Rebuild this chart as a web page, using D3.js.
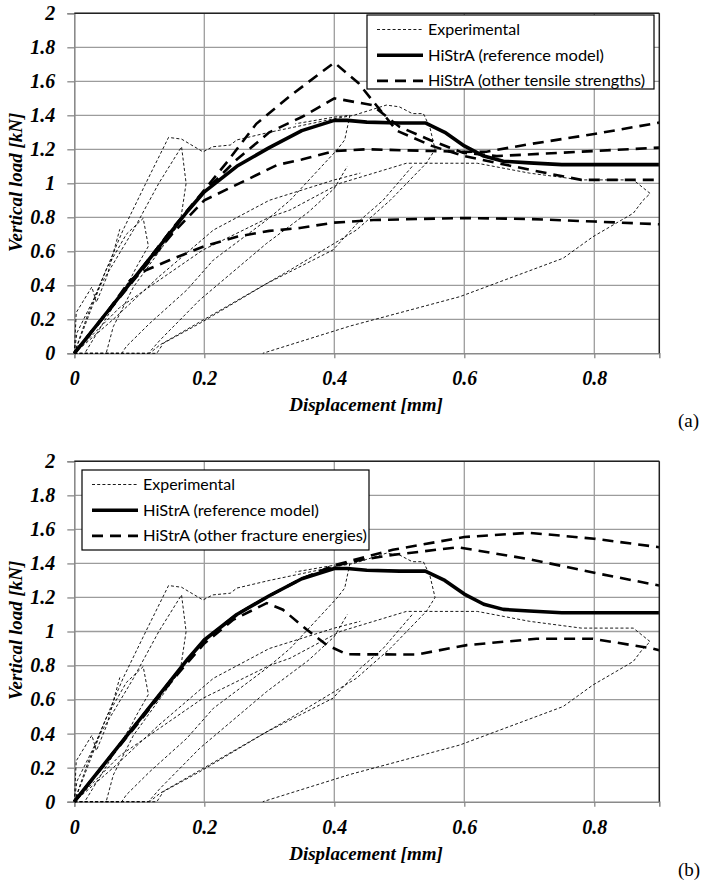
<!DOCTYPE html>
<html>
<head>
<meta charset="utf-8">
<script src="https://cdn.jsdelivr.net/npm/d3@7"></script>
<style>
body { margin: 0; background: #fff; }
.tick text { font-family: "Liberation Serif", "Times New Roman", serif; font-weight: bold; font-style: italic; font-size: 20px; fill: #000; }
</style>
</head>
<body>
<svg id="chart" width="711" height="887"></svg>
<script>
// ---- experimental tests (thin dashed), same in both panels: [displacement, load]
var test1 = [[0,0],[0.004,0.12],[0.03,0.32],[0.075,0.725],[0.11,1.0],[0.145,1.27],[0.165,1.26],[0.198,1.185],[0.213,1.215],[0.24,1.225],[0.25,1.255],[0.3,1.3],[0.4,1.38],[0.43,1.4],[0.48,1.46],[0.5,1.45],[0.52,1.41],[0.537,1.41],[0.547,1.33],[0.555,1.2],[0.542,1.12],[0.486,0.9],[0.434,0.725],[0.332,0.49],[0.132,0.05],[0.116,0]]
var test2 = [[0,0],[0.01,0.1],[0.04,0.4],[0.091,0.725],[0.13,1.0],[0.165,1.215],[0.172,1.0],[0.163,0.77],[0.091,0.39],[0.06,0.157],[0.049,0]]
var test3 = [[0,0],[0.02,0.22],[0.05,0.5],[0.08,0.7],[0.106,0.794],[0.114,0.63],[0.096,0.51],[0.088,0.45],[0.016,0]]
var test4 = [[0,0],[0.003,0.24],[0.027,0.39],[0.034,0.3],[0.05,0.45],[0.07,0.73]]
var test5 = [[0,0],[0.07,0.27],[0.198,0.608],[0.3,0.8],[0.332,0.843],[0.409,1.0],[0.511,1.118],[0.62,1.118],[0.7,1.06],[0.78,1.02],[0.86,1.02],[0.886,0.94],[0.875,0.9],[0.86,0.824],[0.798,0.686],[0.752,0.559],[0.593,0.333],[0.424,0.16],[0.29,0]]
var test6 = [[0,0],[0.073,0],[0.08,0.04],[0.116,0.176],[0.173,0.372],[0.214,0.549],[0.296,0.784],[0.332,0.9],[0.404,1.196],[0.416,1.255],[0.424,1.4],[0.401,1.39],[0.34,1.35]]
var test7 = [[0,0],[0.127,0],[0.137,0.059],[0.193,0.176],[0.296,0.41],[0.398,0.608],[0.44,0.784],[0.475,0.9],[0.52,1.1]]
var test8 = [[0,0],[0.114,0],[0.132,0.078],[0.193,0.314],[0.296,0.647],[0.36,0.83],[0.4,0.97],[0.42,1.1]]
var test9 = [[0,0],[0.06,0.2],[0.13,0.45],[0.214,0.725],[0.3,0.9],[0.4,1.02],[0.44,1.06]]
var tests = [test1, test2, test3, test4, test5, test6, test7, test8, test9]

// ---- HiStrA reference model (thick solid), both panels
var refX = [0, 0.05, 0.1, 0.15, 0.175, 0.2, 0.25, 0.3, 0.35, 0.4, 0.42, 0.45, 0.5, 0.54, 0.57, 0.6, 0.63, 0.66, 0.7, 0.75, 0.8, 0.9]
var refY = [0, 0.24, 0.48, 0.72, 0.84, 0.95, 1.1, 1.21, 1.31, 1.37, 1.37, 1.36, 1.355, 1.355, 1.3, 1.22, 1.16, 1.13, 1.12, 1.11, 1.11, 1.11]

// ---- (a) other tensile strengths
var ts1X = [0, 0.1, 0.15, 0.2, 0.234, 0.28, 0.334, 0.4, 0.437, 0.496, 0.55, 0.6, 0.65, 0.7, 0.78, 0.9]
var ts1Y = [0, 0.48, 0.73, 0.96, 1.12, 1.35, 1.52, 1.71, 1.59, 1.31, 1.22, 1.16, 1.12, 1.08, 1.02, 1.02]
var ts2X = [0, 0.1, 0.15, 0.2, 0.25, 0.3, 0.35, 0.4, 0.458, 0.5, 0.547, 0.598, 0.65, 0.75, 0.9]
var ts2Y = [0, 0.48, 0.73, 0.95, 1.14, 1.3, 1.39, 1.5, 1.46, 1.333, 1.255, 1.18, 1.16, 1.18, 1.21]
var ts3X = [0, 0.1, 0.15, 0.2, 0.265, 0.312, 0.35, 0.4, 0.45, 0.55, 0.6, 0.634, 0.7, 0.8, 0.9]
var ts3Y = [0, 0.47, 0.7, 0.9, 1.02, 1.108, 1.14, 1.19, 1.2, 1.19, 1.185, 1.186, 1.23, 1.29, 1.357]
var ts4X = [0, 0.05, 0.086, 0.111, 0.147, 0.198, 0.25, 0.3, 0.347, 0.398, 0.46, 0.6, 0.7, 0.8, 0.9]
var ts4Y = [0, 0.24, 0.43, 0.49, 0.549, 0.627, 0.686, 0.72, 0.737, 0.768, 0.784, 0.796, 0.79, 0.775, 0.759]

// ---- (b) other fracture energies
var fe1X = [0, 0.1, 0.15, 0.2, 0.25, 0.3, 0.35, 0.4, 0.44, 0.49, 0.6, 0.7, 0.8, 0.9]
var fe1Y = [0, 0.48, 0.72, 0.95, 1.1, 1.21, 1.31, 1.39, 1.43, 1.48, 1.555, 1.58, 1.545, 1.495]
var fe2X = [0, 0.1, 0.15, 0.2, 0.25, 0.3, 0.35, 0.4, 0.44, 0.49, 0.59, 0.7, 0.8, 0.9]
var fe2Y = [0, 0.48, 0.72, 0.95, 1.1, 1.21, 1.31, 1.385, 1.42, 1.45, 1.495, 1.425, 1.345, 1.27]
var fe3X = [0, 0.1, 0.15, 0.2, 0.245, 0.296, 0.321, 0.358, 0.388, 0.419, 0.527, 0.604, 0.711, 0.798, 0.89, 0.9]
var fe3Y = [0, 0.47, 0.71, 0.93, 1.07, 1.167, 1.128, 1.01, 0.922, 0.866, 0.865, 0.92, 0.957, 0.957, 0.9, 0.89]

var xTicks = [0, 0.2, 0.4, 0.6, 0.8]
var yTicks = [0, 0.2, 0.4, 0.6, 0.8, 1, 1.2, 1.4, 1.6, 1.8, 2]
var legendA = ["Experimental", "HiStrA (reference model)", "HiStrA (other tensile strengths)"]
var legendB = ["Experimental", "HiStrA (reference model)", "HiStrA (other fracture energies)"]

var svg = d3.select("#chart")
svg.append("rect").attr("width", 711).attr("height", 887).attr("fill", "#fff")

var x = d3.scaleLinear().domain([0, 0.9]).range([74.3, 659.3])

function drawPanel(top, bottom, others, legend, box, tag, id) {
	var y = d3.scaleLinear().domain([0, 2]).range([bottom, top])
	var g = svg.append("g")
	var line = d3.line().x(function(d){ return x(d[0]) }).y(function(d){ return y(d[1]) })

	// grid
	g.selectAll(".hg").data(yTicks.slice(1)).enter().append("line")
		.attr("x1", x(0)).attr("x2", x(0.9))
		.attr("y1", function(d){ return y(d) }).attr("y2", function(d){ return y(d) })
		.attr("stroke", "#9c9c9c").attr("stroke-width", 1.3)
	g.selectAll(".vg").data(xTicks.slice(1)).enter().append("line")
		.attr("y1", y(0)).attr("y2", y(2))
		.attr("x1", function(d){ return x(d) }).attr("x2", function(d){ return x(d) })
		.attr("stroke", "#9c9c9c").attr("stroke-width", 1.3)

	// axes with outside ticks
	var ya = g.append("g").attr("transform", "translate(" + x(0) + ",0)")
		.call(d3.axisLeft(y).tickValues(yTicks).tickSize(7).tickPadding(12).tickFormat(function(d){ return String(d) }))
	var xa = g.append("g").attr("transform", "translate(0," + y(0) + ")")
		.call(d3.axisBottom(x).tickValues(xTicks).tickSize(5).tickPadding(13).tickFormat(function(d){ return String(d) }))
	ya.select(".domain").attr("stroke", "#8a8a8a").attr("stroke-width", 1.6)
	xa.select(".domain").attr("stroke", "#8a8a8a").attr("stroke-width", 1.6)
	ya.selectAll(".tick line").attr("stroke", "#8a8a8a").attr("stroke-width", 1.3)
	xa.selectAll(".tick line").attr("stroke", "#8a8a8a").attr("stroke-width", 1.3)

	// clip
	svg.append("clipPath").attr("id", "clip" + id).append("rect")
		.attr("x", x(0) - 2).attr("y", y(2)).attr("width", x(0.9) - x(0) + 3).attr("height", y(0) - y(2) + 2)
	var plot = g.append("g").attr("clip-path", "url(#clip" + id + ")")

	plot.selectAll(".exp").data(tests).enter().append("path")
		.attr("d", line).attr("fill", "none").attr("stroke", "#000")
		.attr("stroke-width", 0.9).attr("stroke-dasharray", "3,2.2")
	plot.selectAll(".oth").data(others).enter().append("path")
		.attr("d", line).attr("fill", "none").attr("stroke", "#000")
		.attr("stroke-width", 2.6).attr("stroke-dasharray", "11,7")
	plot.append("path").attr("d", line(d3.zip(refX, refY))).attr("fill", "none")
		.attr("stroke", "#000").attr("stroke-width", 3.6).attr("stroke-linejoin", "round")

	// frame top and right
	g.append("line").attr("x1", x(0)).attr("x2", x(0.9)).attr("y1", y(2)).attr("y2", y(2))
		.attr("stroke", "#222").attr("stroke-width", 1.5)
	g.append("line").attr("x1", x(0.9)).attr("x2", x(0.9)).attr("y1", y(2)).attr("y2", y(0))
		.attr("stroke", "#222").attr("stroke-width", 1.5)

	// axis titles
	g.append("text").attr("x", 366).attr("y", y(0) + 58).attr("text-anchor", "middle")
		.style("font-family", "Liberation Serif, serif").style("font-weight", "bold").style("font-style", "italic").style("font-size", "19px")
		.text("Displacement [mm]")
	g.append("text").attr("transform", "translate(22," + (top + 169) + ") rotate(-90)").attr("text-anchor", "middle")
		.style("font-family", "Liberation Serif, serif").style("font-weight", "bold").style("font-style", "italic").style("font-size", "19px")
		.text("Vertical load [kN]")
	g.append("text").attr("x", 678).attr("y", y(0) + 74)
		.style("font-family", "Liberation Serif, serif").style("font-size", "19px")
		.text(tag)

	// legend
	var lg = g.append("g").attr("transform", "translate(" + box[0] + "," + box[1] + ")")
	lg.append("rect").attr("width", 287).attr("height", box[2]).attr("fill", "#fff")
		.attr("stroke", "#000").attr("stroke-width", 1.2)
	var widths = [92, 176, box[3]]
	var styles = [[0.9, "3,2.2"], [3.6, null], [2.6, "11,7"]]
	legend.forEach(function(t, i) {
		var cy = 14.5 + i * 25.7
		lg.append("line").attr("x1", 10).attr("x2", 56).attr("y1", cy).attr("y2", cy)
			.attr("stroke", "#000").attr("stroke-width", styles[i][0])
			.attr("stroke-dasharray", styles[i][1])
		lg.append("text").attr("x", 61).attr("y", cy + 5.5)
			.attr("textLength", widths[i]).attr("lengthAdjust", "spacingAndGlyphs")
			.style("font-family", "Lato, sans-serif").style("font-size", "15.5px")
			.text(t)
	})
}

drawPanel(13.3, 353.3,
	[d3.zip(ts1X, ts1Y), d3.zip(ts2X, ts2Y), d3.zip(ts3X, ts3Y), d3.zip(ts4X, ts4Y)],
	legendA, [367, 15, 74, 217], "(a)", "a")
drawPanel(461.3, 801.7,
	[d3.zip(fe1X, fe1Y), d3.zip(fe2X, fe2Y), d3.zip(fe3X, fe3Y)],
	legendB, [82, 470, 80, 224], "(b)", "b")
</script>
</body>
</html>
